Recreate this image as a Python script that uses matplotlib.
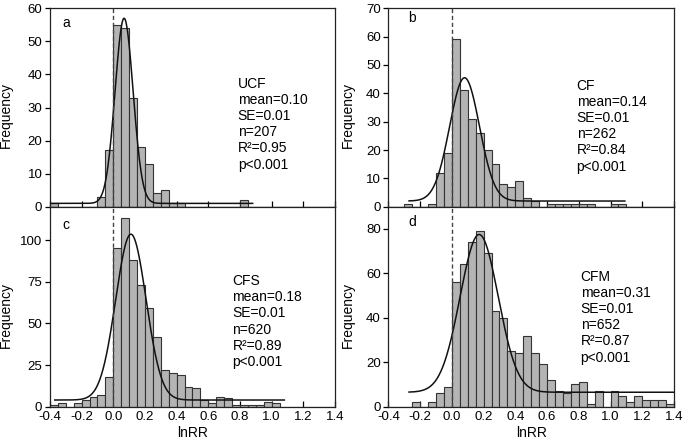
import numpy as np
import matplotlib
matplotlib.use("Agg")
import matplotlib.pyplot as plt

plt.rcParams['font.family'] = ['Liberation Sans', 'DejaVu Sans']

# histogram bins: left edges, width 0.05
bin_width = 0.05
bin_lefts = np.round(np.arange(-0.4, 1.4, bin_width), 2)

counts_a = [1, 0, 0, 0, 0, 0, 3, 17, 55, 54, 33, 18, 13, 4, 5, 1, 1, 0,
            0, 0, 0, 0, 0, 0, 2, 0, 0, 0, 0, 0, 0, 0, 0, 0, 0, 0]
counts_b = [0, 0, 1, 0, 0, 1, 12, 19, 59, 41, 31, 26, 20, 15, 8, 7, 9, 3,
            2, 0, 1, 1, 1, 1, 1, 1, 0, 0, 1, 1, 0, 0, 0, 0, 0, 0]
counts_c = [1, 2, 0, 2, 4, 6, 7, 18, 95, 113, 88, 73, 59, 42, 22, 20, 19, 12,
            11, 4, 2, 6, 5, 1, 1, 1, 1, 3, 2, 0, 0, 0, 0, 0, 0, 0]
counts_d = [0, 0, 0, 2, 0, 2, 6, 9, 56, 64, 74, 79, 69, 43, 40, 25, 24, 32,
            24, 19, 12, 7, 6, 10, 11, 1, 7, 0, 7, 5, 2, 5, 3, 3, 3, 1]

# gaussian fit: baseline, amplitude, centre, sigma, x range
fit_a = dict(base=1.0, amp=56.0, mu=0.068, sd=0.057, x0=-0.4, x1=0.88)
fit_b = dict(base=2.0, amp=43.5, mu=0.080, sd=0.094, x0=-0.27, x1=1.09)
fit_c = dict(base=4.0, amp=99.5, mu=0.111, sd=0.096, x0=-0.37, x1=1.08)
fit_d = dict(base=6.5, amp=71.0, mu=0.172, sd=0.120, x0=-0.27, x1=1.40)

labels = ["a", "b", "c", "d"]
groups = ["UCF", "CF", "CFS", "CFM"]
means = ["0.10", "0.14", "0.18", "0.31"]
ses = ["0.01", "0.01", "0.01", "0.01"]
ns = [207, 262, 620, 652]
r2s = ["0.95", "0.84", "0.89", "0.87"]

ylims = [60, 70, 120, 90]
yticks = [np.arange(0, 61, 10), np.arange(0, 71, 10),
          [0, 25, 50, 75, 100], [0, 20, 40, 60, 80]]
xticks = [-0.4, -0.2, 0.0, 0.2, 0.4, 0.6, 0.8, 1.0, 1.2, 1.4]

fig = plt.figure(figsize=(6.85, 4.47), dpi=100)
positions = [
    [0.073, 0.5376, 0.416, 0.4438],
    [0.567, 0.5376, 0.417, 0.4438],
    [0.073, 0.0902, 0.416, 0.4474],
    [0.567, 0.0902, 0.417, 0.4474],
]
text_pos = [(0.659, 0.656), (0.659, 0.646), (0.640, 0.663), (0.673, 0.685)]
letter_pos = [(0.044, 0.926), (0.068, 0.95), (0.044, 0.91), (0.070, 0.925)]

all_counts = [counts_a, counts_b, counts_c, counts_d]
all_fits = [fit_a, fit_b, fit_c, fit_d]

for i in range(4):
    ax = fig.add_axes(positions[i])
    ax.bar(bin_lefts, all_counts[i], width=bin_width, align='edge',
           color='#b4b4b4', edgecolor='#333333', linewidth=0.8, zorder=2)

    f = all_fits[i]
    xs = np.linspace(f['x0'], f['x1'], 400)
    ys = f['base'] + f['amp'] * np.exp(-(xs - f['mu']) ** 2 / (2 * f['sd'] ** 2))
    ax.plot(xs, ys, color='#111111', lw=1.1, zorder=3)

    ax.axvline(0.0, color='#444444', lw=1.0, ls=(0, (3, 2)), zorder=4)

    ax.set_xlim(-0.4, 1.4)
    ax.set_ylim(0, ylims[i])
    ax.set_xticks(xticks)
    ax.set_yticks(yticks[i])
    ax.tick_params(axis='x', direction='in', length=4, width=0.9,
                   labelsize=9.5, pad=3)
    ax.tick_params(axis='y', direction='out', length=3.5, width=0.9,
                   labelsize=9.5, pad=2)
    if i < 2:
        ax.tick_params(axis='x', labelbottom=False)
    else:
        ax.xaxis.set_major_formatter(matplotlib.ticker.FormatStrFormatter('%.1f'))
        ax.set_xlabel("lnRR", fontsize=10, labelpad=2)

    ax.set_ylabel("Frequency", fontsize=10)
    if i % 2 == 0:
        ax.yaxis.set_label_coords(-0.13, 0.46)
    else:
        ax.yaxis.set_label_coords(-0.117, 0.46)

    for sp in ax.spines.values():
        sp.set_linewidth(0.9)
        sp.set_color('#222222')

    txt = (f"{groups[i]}\nmean={means[i]}\nSE={ses[i]}\nn={ns[i]}\n"
           f"R\u00b2={r2s[i]}\np<0.001")
    ax.text(text_pos[i][0], text_pos[i][1], txt, transform=ax.transAxes,
            ha='left', va='top', fontsize=10, linespacing=1.2)
    ax.text(letter_pos[i][0], letter_pos[i][1], labels[i], transform=ax.transAxes,
            ha='left', va='center', fontsize=10)

fig.savefig("out.png", dpi=100)
